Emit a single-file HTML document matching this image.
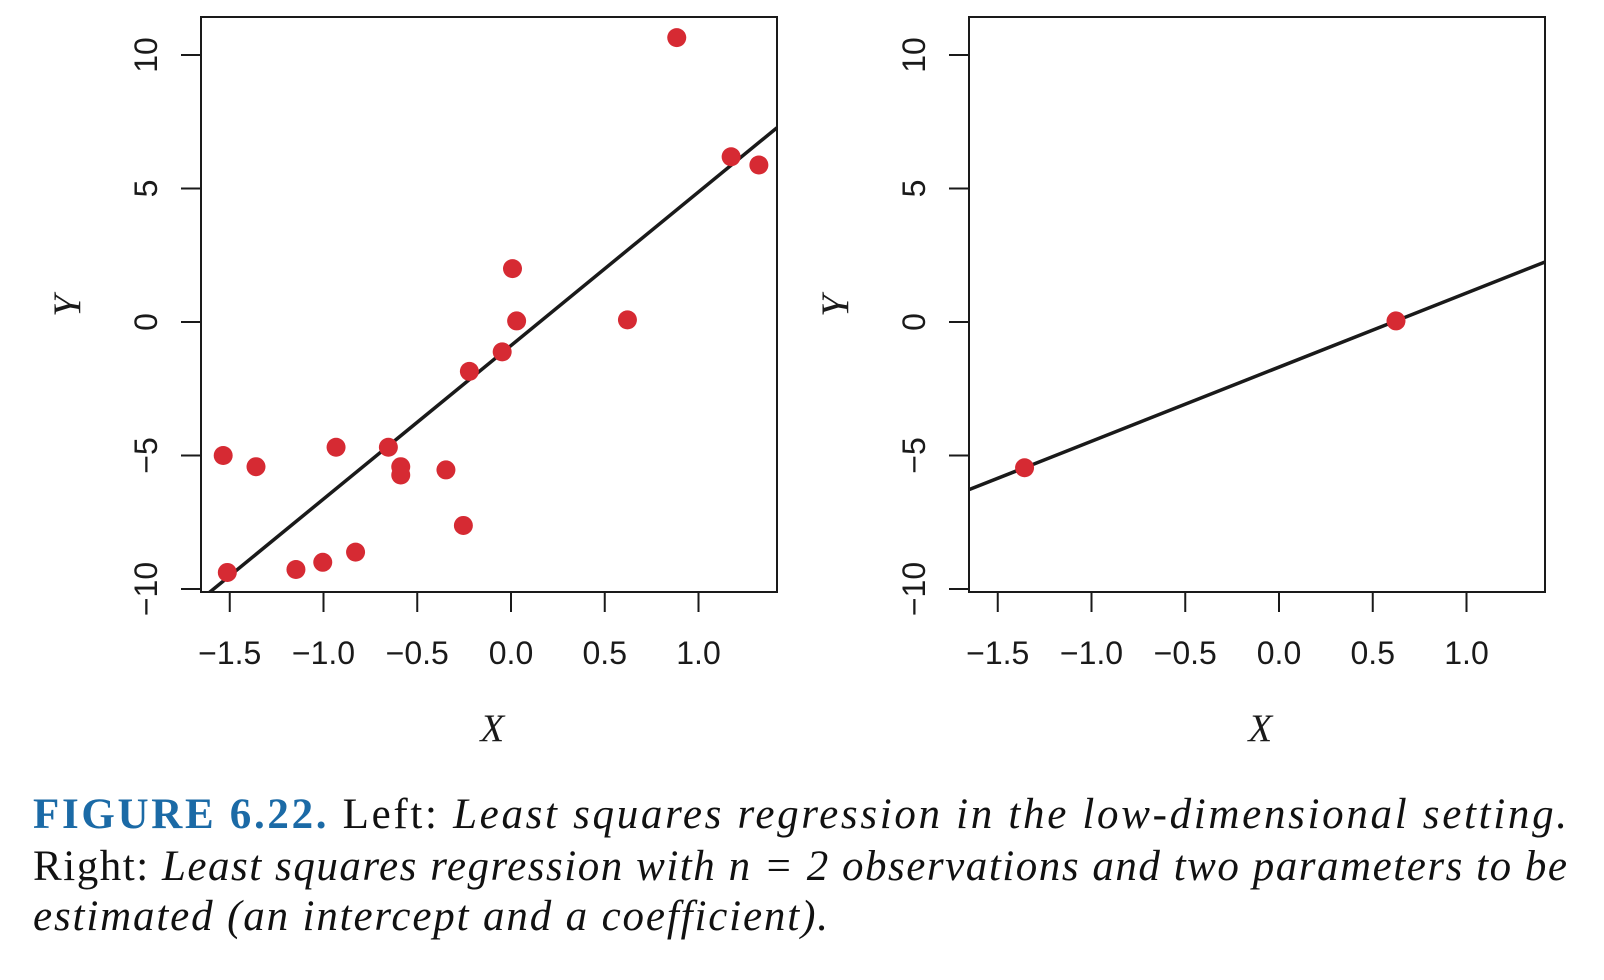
<!DOCTYPE html>
<html><head><meta charset="utf-8"><style>
html,body{margin:0;padding:0;background:#fff;width:1604px;height:980px;overflow:hidden}
svg{display:block}
.tk{font-family:"Liberation Sans",sans-serif;font-size:32px;fill:#1a1a1a}
.at{font-family:"Liberation Serif",serif;font-style:italic;font-size:39px;fill:#1a1a1a}
.cap{font-family:"Liberation Serif",serif;font-size:43px;fill:#111}
</style></head><body>
<svg id="fig" width="1604" height="980">
<g id="left"></g>
<g id="right"></g>
<g>
<text class="cap" x="33" y="828" textLength="1534" lengthAdjust="spacing"><tspan font-weight="bold" fill="#1b6aa6">FIGURE 6.22.</tspan> Left: <tspan font-style="italic">Least squares regression in the low-dimensional setting.</tspan></text>
<text class="cap" x="33" y="880" textLength="1534" lengthAdjust="spacing">Right: <tspan font-style="italic">Least squares regression with n = 2 observations and two parameters to be</tspan></text>
<text class="cap" x="33" y="930" font-style="italic" textLength="795" lengthAdjust="spacing">estimated (an intercept and a coefficient).</text>
</g>
</svg>
<script>
const leftX = [-1.535,-1.36,-1.513,-1.147,-1.004,-0.829,-0.933,-0.654,-0.588,-0.588,-0.347,-0.254,-0.222,-0.047,0.008,0.030,0.621,0.884,1.174,1.322];
const leftY = [-5.0,-5.42,-9.38,-9.27,-9.0,-8.62,-4.69,-4.69,-5.42,-5.73,-5.54,-7.62,-1.85,-1.12,2.0,0.04,0.08,10.65,6.19,5.88];
const leftFit = [-0.88, 5.75];
const rightX = [-1.357, 0.624];
const rightY = [-5.46, 0.04];
const rightFit = [-1.69, 2.776];
const xTicks = [-1.5,-1.0,-0.5,0.0,0.5,1.0];
const xTickLabels = ["\u22121.5","\u22121.0","\u22120.5","0.0","0.5","1.0"];
const yTicks = [-10,-5,0,5,10];
const yTickLabels = ["\u221210","\u22125","0","5","10"];

const NS="http://www.w3.org/2000/svg";
function mk(parent,tag,attrs){const e=document.createElementNS(NS,tag);for(const k in attrs)e.setAttribute(k,attrs[k]);parent.appendChild(e);return e;}

function panel(g,L,xs,ys,fit,id){
  const R=L+576, T=17, B=592;
  const x0=L+310, unit=187.5, y0=322, yu=26.7;
  const sx=v=>x0+v*unit, sy=v=>y0-v*yu;
  const xmin=(L-x0)/unit, xmax=(R-x0)/unit;
  const box=mk(g,'rect',{x:L,y:T,width:R-L,height:B-T,fill:'none',stroke:'#1a1a1a','stroke-width':2});
  
  
  xTicks.forEach((t,i)=>{
    const l=mk(g,'line',{x1:sx(t),x2:sx(t),y1:B,y2:B+20,stroke:'#1a1a1a','stroke-width':2});
    
    
    const tx=mk(g,'text',{x:sx(t),y:664,'text-anchor':'middle',class:'tk'});
    tx.textContent=xTickLabels[i];
    
    
  });
  yTicks.forEach((t,i)=>{
    const l=mk(g,'line',{x1:L-20,x2:L,y1:sy(t),y2:sy(t),stroke:'#1a1a1a','stroke-width':2});
    
    
    const tx=mk(g,'text',{x:0,y:0,'text-anchor':'middle',class:'tk',transform:`translate(${L-44},${sy(t)}) rotate(-90)`});
    tx.textContent=yTickLabels[i];
    
    
  });
  const xt=mk(g,'text',{x:sx(-0.1),y:741,'text-anchor':'middle',class:'at'});
  xt.textContent='X';
  
  
  const yt=mk(g,'text',{x:0,y:0,'text-anchor':'middle',class:'at',transform:`translate(${L-121},${sy(0.6)}) rotate(-90)`});
  yt.textContent='Y';
  
  
  const cp=mk(g,'clipPath',{id:'clip'+id});
  mk(cp,'rect',{x:L,y:T,width:R-L,height:B-T});
  const ln=mk(g,'line',{x1:sx(xmin),y1:sy(fit[0]+fit[1]*xmin),x2:sx(xmax),y2:sy(fit[0]+fit[1]*xmax),stroke:'#1a1a1a','stroke-width':3.5,'clip-path':`url(#clip${id})`});
  
  
  xs.forEach((v,i)=>{
    const c=mk(g,'circle',{cx:sx(v),cy:sy(ys[i]),r:9.5,fill:'#d62a33'});
    
    
  });
}
panel(document.getElementById('left'),201,leftX,leftY,leftFit,'L');
panel(document.getElementById('right'),969,rightX,rightY,rightFit,'R');
</script>
</body></html>
